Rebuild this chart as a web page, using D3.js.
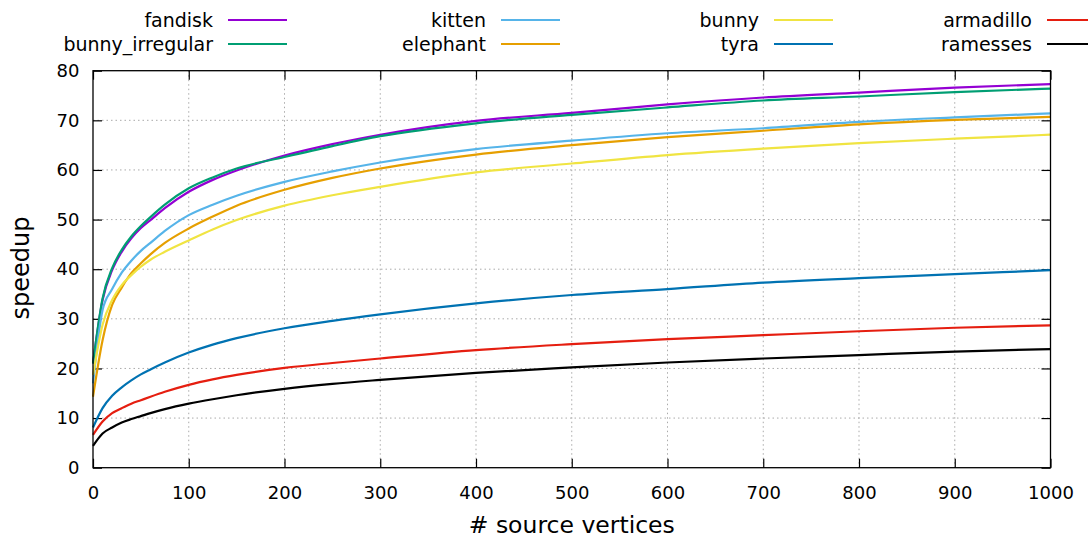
<!DOCTYPE html>
<html><head><meta charset="utf-8">
<script src="https://cdn.jsdelivr.net/npm/d3@7"></script>
<style>body{margin:0;background:#fff}svg{display:block}text{font-family:"DejaVu Sans",sans-serif;fill:#000}</style>
</head><body><svg id="c" width="1088" height="539"></svg>
<script>
const xs = [0,10,20,30,40,50,60,75,100,125,150,200,250,300,400,500,600,700,800,900,1000];
const fandisk        = [21.0,33.8,39.8,43.5,46.2,48.3,49.9,52.3,55.6,58.0,59.9,62.9,65.2,67.1,69.9,71.5,73.2,74.6,75.6,76.6,77.3];
const bunnyIrregular = [21.0,34.1,40.2,43.9,46.6,48.7,50.5,53.0,56.3,58.5,60.3,62.6,64.8,66.8,69.4,71.1,72.6,74.0,74.8,75.7,76.4];
const kitten         = [17.0,31.8,36.0,39.3,41.7,43.7,45.3,47.7,50.9,53.0,54.8,57.6,59.7,61.5,64.2,65.9,67.4,68.4,69.7,70.6,71.4];
const elephant       = [14.3,25.7,32.8,36.3,39.2,41.2,43.0,45.3,48.2,50.6,52.8,56.0,58.4,60.3,63.1,65.0,66.6,67.9,69.2,70.1,70.7];
const bunny          = [18.7,28.8,33.8,36.8,38.8,40.5,41.9,43.5,45.8,48.0,49.9,52.8,54.9,56.6,59.5,61.3,63.0,64.3,65.4,66.3,67.1];
const tyra           = [8.1,12.0,14.5,16.2,17.6,18.8,19.8,21.2,23.2,24.8,26.1,28.1,29.6,30.9,33.1,34.8,36.0,37.3,38.2,39.0,39.8];
const armadillo      = [6.6,9.3,11.0,12.0,12.9,13.6,14.3,15.3,16.7,17.8,18.7,20.1,21.1,22.0,23.7,24.9,25.9,26.7,27.5,28.2,28.7];
const ramesses       = [4.4,6.9,8.1,9.1,9.8,10.4,11.0,11.8,12.9,13.8,14.6,15.9,16.9,17.7,19.1,20.2,21.2,22.0,22.7,23.4,23.9];
const seriesNames = ["fandisk","bunny_irregular","kitten","elephant","bunny","tyra","armadillo","ramesses"];
const seriesValues = [fandisk,bunnyIrregular,kitten,elephant,bunny,tyra,armadillo,ramesses];
const xTicks = [0,100,200,300,400,500,600,700,800,900,1000];
const yTicks = [0,10,20,30,40,50,60,70,80];
const colors = ["#9400d3","#009e73","#56b4e9","#e69f00","#f0e442","#0072b2","#e51e10","#000000"];

const svg = d3.select("#c");
const L=93, R=1050.5, T=70.7, B=467.7;
const x = d3.scaleLinear().domain([0,1000]).range([L,R]);
const y = d3.scaleLinear().domain([0,80]).range([B,T]);

// grid
const g = svg.append("g");
g.selectAll("line.gx").data(xTicks.slice(1,-1)).join("line")
  .attr("x1",d=>x(d)).attr("x2",d=>x(d)).attr("y1",T).attr("y2",B)
  .attr("stroke","#aaa").attr("stroke-width",1).attr("stroke-dasharray","1.5,3");
g.selectAll("line.gy").data(yTicks.slice(1,-1)).join("line")
  .attr("y1",d=>y(d)).attr("y2",d=>y(d)).attr("x1",L).attr("x2",R)
  .attr("stroke","#aaa").attr("stroke-width",1).attr("stroke-dasharray","1.5,3");

// axes
const tl = 9;
const ax = svg.append("g").attr("transform",`translate(0,${B})`)
  .call(d3.axisBottom(x).tickValues(xTicks).tickSize(-tl).tickPadding(19).tickFormat(d3.format("d")));
const axT = svg.append("g").attr("transform",`translate(0,${T})`)
  .call(d3.axisTop(x).tickValues(xTicks).tickSize(-tl).tickFormat(""));
const ay = svg.append("g").attr("transform",`translate(${L},0)`)
  .call(d3.axisLeft(y).tickValues(yTicks).tickSize(-tl).tickPadding(13.5));
const ayR = svg.append("g").attr("transform",`translate(${R},0)`)
  .call(d3.axisRight(y).tickValues(yTicks).tickSize(-tl).tickFormat(""));
[ax,axT,ay,ayR].forEach(a=>{
  a.select(".domain").remove();
  a.selectAll(".tick line").attr("stroke","#000").attr("stroke-width",1.2);
  a.selectAll("text").style("font-size","18px").style("font-family","DejaVu Sans");
});

// lines
const line = d3.line().x((d,i)=>x(xs[i])).y(d=>y(d)).curve(d3.curveMonotoneX);
svg.append("g").selectAll("path").data(seriesValues).join("path")
  .attr("d",d=>line(d)).attr("fill","none")
  .attr("stroke",(d,i)=>colors[i]).attr("stroke-width",2.2);

// frame
svg.append("rect").attr("x",L).attr("y",T).attr("width",R-L).attr("height",B-T)
  .attr("fill","none").attr("stroke","#000").attr("stroke-width",1.3);

// labels
svg.append("text").attr("x",(L+R)/2).attr("y",533).attr("text-anchor","middle")
  .style("font-size","23.5px").text("# source vertices");
svg.append("text").attr("transform","translate(29,268) rotate(-90)").attr("text-anchor","middle")
  .style("font-size","24px").text("speedup");

// legend
const lg = svg.append("g");
seriesNames.forEach((n,i)=>{
  const col = Math.floor(i/2), row = i%2;
  const tx = 213 + col*273, ty = 20 + row*24;
  lg.append("text").attr("x",tx).attr("y",ty).attr("dy","0.35em").attr("text-anchor","end")
    .style("font-size","19px").text(n);
  lg.append("line").attr("x1",tx+15).attr("x2",tx+74).attr("y1",ty).attr("y2",ty)
    .attr("stroke",colors[i]).attr("stroke-width",2.2);
});
</script></body></html>
